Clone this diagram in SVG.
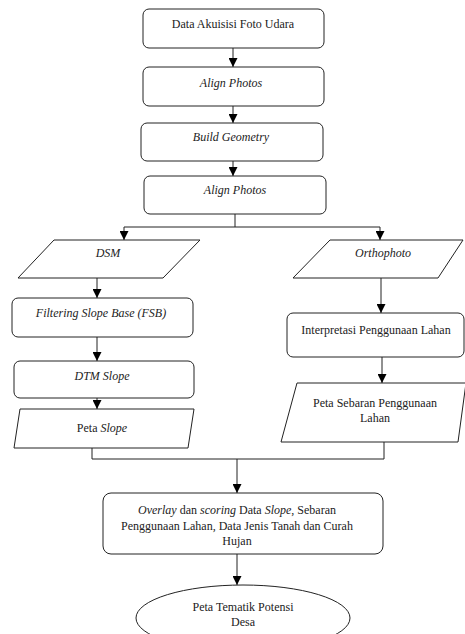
<svg xmlns="http://www.w3.org/2000/svg" width="465" height="634" viewBox="0 0 465 634">
<defs>
<marker id="arr" markerWidth="9" markerHeight="9" refX="9" refY="4.5" orient="auto" markerUnits="userSpaceOnUse" viewBox="0 0 9 9">
<path d="M0,0 L9,4.5 L0,9 Z" fill="#000"/>
</marker>
<style>
.box{fill:#fff;stroke:#222;stroke-width:1}
.t{font-family:'Liberation Serif','Times New Roman',serif;font-size:12px;fill:#222;text-anchor:middle}
.i{font-style:italic}
.c{fill:none;stroke:#222;stroke-width:1}
.a{fill:none;stroke:#222;stroke-width:1;marker-end:url(#arr)}
</style>
</defs>
<rect width="465" height="634" fill="#fff"/>
<g id="connectors">
<line class="a" x1="233" y1="48" x2="233" y2="67"/>
<line class="a" x1="233" y1="106" x2="233" y2="123"/>
<line class="a" x1="233" y1="161" x2="233" y2="176"/>
<line class="c" x1="235" y1="214" x2="235" y2="227"/>
<line class="c" x1="124" y1="227" x2="380" y2="227"/>
<line class="a" x1="124" y1="227" x2="124" y2="240"/>
<line class="a" x1="380" y1="227" x2="380" y2="240"/>
<line class="a" x1="97" y1="278" x2="97" y2="298"/>
<line class="a" x1="97" y1="337" x2="97" y2="361"/>
<line class="a" x1="97" y1="398" x2="97" y2="409"/>
<line class="a" x1="381" y1="278" x2="381" y2="313"/>
<line class="a" x1="382" y1="357" x2="382" y2="383"/>
<path class="c" d="M92,448 V459 H384 V442"/>
<line class="a" x1="237" y1="459" x2="237" y2="493"/>
<line class="a" x1="237" y1="554" x2="237" y2="585"/>
</g>
<g id="n1"><rect class="box" x="143" y="9" width="181" height="39" rx="6"/><text class="t" x="233" y="28">Data Akuisisi Foto Udara</text></g>
<g id="n2"><rect class="box" x="143" y="67" width="181" height="39" rx="6"/><text class="t i" x="231" y="87">Align Photos</text></g>
<g id="n3"><rect class="box" x="141" y="123" width="182" height="38" rx="6"/><text class="t i" x="231" y="141">Build Geometry</text></g>
<g id="n4"><rect class="box" x="144" y="176" width="182" height="38" rx="6"/><text class="t i" x="235" y="194">Align Photos</text></g>
<g id="n5"><polygon class="box" points="54,240 200,240 163,278 18,278"/><text class="t i" x="108" y="257">DSM</text></g>
<g id="n6"><polygon class="box" points="330,240 463,240 438,278 293,278"/><text class="t i" x="383" y="257">Orthophoto</text></g>
<g id="n7"><rect class="box" x="12" y="298" width="181" height="39" rx="6"/><text class="t i" x="101" y="317">Filtering Slope Base (FSB)</text></g>
<g id="n8"><rect class="box" x="287" y="313" width="177" height="44" rx="6"/><text class="t" x="376" y="334">Interpretasi Penggunaan Lahan</text></g>
<g id="n9"><rect class="box" x="14" y="361" width="180" height="37" rx="6"/><text class="t i" x="102" y="380">DTM Slope</text></g>
<g id="n10"><polygon class="box" points="20,409 194,409 188,448 14,448"/><text class="t" x="102" y="432">Peta <tspan class="i">Slope</tspan></text></g>
<g id="n11"><polygon class="box" points="297,383 466,383 458,442 281,442"/><text class="t" x="375" y="407">Peta Sebaran Penggunaan</text><text class="t" x="375" y="422">Lahan</text></g>
<g id="n12"><rect class="box" x="103" y="493" width="280" height="61" rx="8"/>
<text class="t" x="237" y="514"><tspan class="i">Overlay</tspan> dan <tspan class="i">scoring</tspan> Data <tspan class="i">Slope</tspan>, Sebaran</text>
<text class="t" x="237" y="530">Penggunaan Lahan, Data Jenis Tanah dan Curah</text>
<text class="t" x="237" y="545">Hujan</text></g>
<g id="n13"><ellipse class="box" cx="243" cy="618" rx="107" ry="33"/><text class="t" x="243" y="611">Peta Tematik Potensi</text><text class="t" x="243" y="626">Desa</text></g>
</svg>
